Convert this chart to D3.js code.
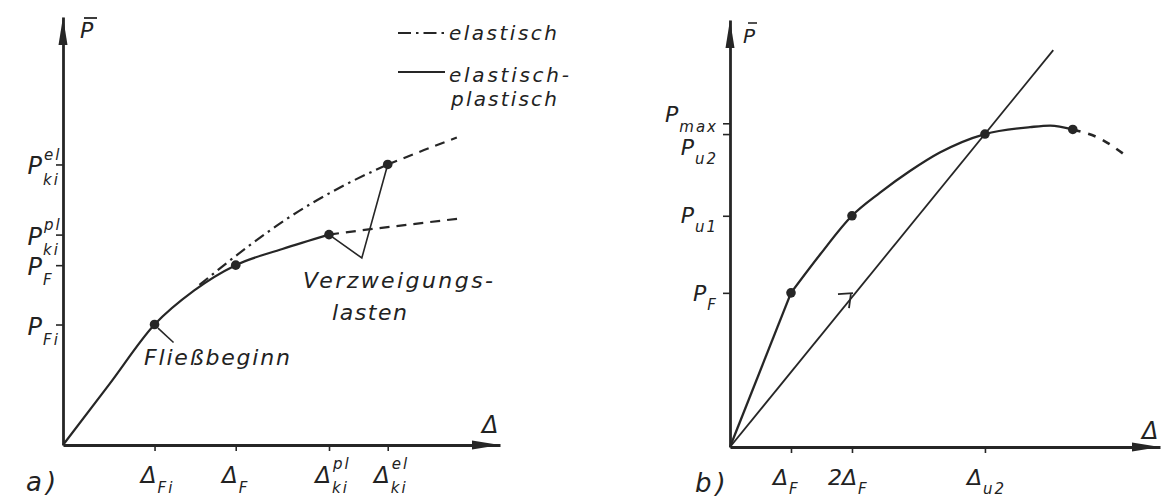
<!DOCTYPE html>
<html>
<head>
<meta charset="utf-8">
<script src="https://cdn.jsdelivr.net/npm/d3@7"></script>
<style>
  html, body { margin: 0; padding: 0; background: #fff; }
  svg { display: block; }
  text { font-family: "DejaVu Sans", sans-serif; font-style: oblique; fill: #222; }
</style>
</head>
<body>
<svg id="chart" width="1166" height="500"></svg>
<script>
// ---------- a) elastic vs. elastic-plastic load/deflection ----------
const aXTicks = [0.53, 1.00, 1.54, 1.88];
const aXTickLabels = [["Δ", "Fi", ""], ["Δ", "F", ""], ["Δ", "ki", "pl"], ["Δ", "ki", "el"]];
const aYTicks = [0.67, 1.00, 1.17, 1.56];
const aYTickLabels = [["P", "Fi", ""], ["P", "F", ""], ["P", "ki", "pl"], ["P", "ki", "el"]];
const aPlastic = [[0, 0], [0.27, 0.34], [0.53, 0.67], [0.76, 0.86], [1.00, 1.00], [1.27, 1.09], [1.54, 1.17]];
const aPlasticTail = [[1.54, 1.17], [1.78, 1.20], [2.04, 1.23], [2.30, 1.26]];
const aElastic = [[0.79, 0.89], [1.08, 1.11], [1.30, 1.26], [1.62, 1.44], [1.88, 1.56]];
const aElasticTail = [[1.88, 1.56], [2.09, 1.64], [2.28, 1.71]];
const aPoints = [[0.53, 0.67], [1.00, 1.00], [1.54, 1.17], [1.88, 1.56]];
const aBranchLeader = [[1.54, 1.17], [1.73, 1.04], [1.88, 1.56]];
const aYieldLeader = [[0.55, 0.65], [0.64, 0.57]];
const aLegend = ["elastisch", "elastisch-", "plastisch"];

// ---------- b) ultimate load from the secant through 2ΔF ----------
const bXTicks = [1.00, 2.00, 4.18];
const bXTickLabels = [["Δ", "F"], ["2Δ", "F"], ["Δ", "u2"]];
const bYTicks = [1.00, 1.50, 2.03, 2.10];
const bYTickLabels = [["P", "F"], ["P", "u1"], ["P", "u2"], ["P", "max"]];
const bCurveStart = [[0, 0], [1.00, 1.00]];
const bCurve = [[1.00, 1.00], [1.48, 1.25], [2.00, 1.50], [2.46, 1.65], [2.95, 1.79], [3.44, 1.91],
                [4.18, 2.03], [4.92, 2.075], [5.25, 2.085], [5.62, 2.06]];
const bCurveTail = [[5.62, 2.06], [6.07, 2.00], [6.49, 1.89]];
const bRay = [[0, 0], [5.30, 2.575]];
const bPoints = [[1.00, 1.00], [2.00, 1.50], [4.18, 2.03], [5.62, 2.06]];
const bRayMark = [2.00, 0.985];

// ---------- drawing ----------
const INK = "#262626";
const svg = d3.select("#chart");

const aX = d3.scaleLinear().domain([0, 2.53]).range([63, 500]);
const aY = d3.scaleLinear().domain([0, 2.38]).range([445, 17]);
const bX = d3.scaleLinear().domain([0, 7.05]).range([730, 1160]);
const bY = d3.scaleLinear().domain([0, 2.77]).range([447, 20]);

// base letter with optional subscript / superscript
function symbol(parent, base, sub, sup, fs, fsSmall) {
  const g = parent.append("g");
  const b = g.append("text").attr("font-size", fs).text(base);
  const bw = b.node().getComputedTextLength();
  let w = bw;
  if (sub) {
    const s = g.append("text").attr("x", bw + 1).attr("y", fs * 0.42)
      .attr("font-size", fsSmall).attr("letter-spacing", 2).text(sub);
    w = Math.max(w, bw + 1 + s.node().getComputedTextLength());
  }
  if (sup) {
    const s = g.append("text").attr("x", bw + 2).attr("y", -fs * 0.62)
      .attr("font-size", fsSmall).attr("letter-spacing", 2).text(sup);
    w = Math.max(w, bw + 2 + s.node().getComputedTextLength());
  }
  return { g, bw, w };
}

function arrowUp(g, x, y) {
  g.append("path").attr("d", `M${x},${y} L${x - 4.5},${y + 28} L${x + 4.5},${y + 28} Z`).attr("fill", INK);
}
function arrowRight(g, x, y) {
  g.append("path").attr("d", `M${x},${y} L${x - 28},${y - 4.5} L${x - 28},${y + 4.5} Z`).attr("fill", INK);
}

function drawPanel(cfg) {
  const { X, Y, g } = cfg;
  const xAxis = d3.axisBottom(X).tickValues(cfg.xTicks).tickSize(6).tickSizeOuter(0).tickFormat("");
  const yAxis = d3.axisLeft(Y).tickValues(cfg.yTicks).tickSize(7).tickSizeOuter(0).tickFormat("");
  const gx = g.append("g").attr("transform", `translate(0,${Y(0)})`).call(xAxis);
  const gy = g.append("g").attr("transform", `translate(${X(0)},0)`).call(yAxis);
  [gx, gy].forEach(a => {
    a.select(".domain").attr("stroke", INK).attr("stroke-width", 2.8);
    a.selectAll(".tick line").attr("stroke", INK).attr("stroke-width", 1.6);
  });
  arrowUp(g, X(0), Y.range()[1]);
  arrowRight(g, X.range()[1], Y(0));
}

// ---------------- panel a ----------------
const ga = svg.append("g");
drawPanel({ X: aX, Y: aY, g: ga, xTicks: aXTicks, yTicks: aYTicks });

const lineA = d3.line().x(d => aX(d[0])).y(d => aY(d[1])).curve(d3.curveMonotoneX);
const straightA = d3.line().x(d => aX(d[0])).y(d => aY(d[1]));

ga.append("path").attr("d", lineA(aElastic)).attr("fill", "none").attr("stroke", INK)
  .attr("stroke-width", 2.2).attr("stroke-dasharray", "11,5,2.5,5");
ga.append("path").attr("d", lineA(aElasticTail)).attr("fill", "none").attr("stroke", INK)
  .attr("stroke-width", 2.2).attr("stroke-dasharray", "10,7");
ga.append("path").attr("d", lineA(aPlastic)).attr("fill", "none").attr("stroke", INK)
  .attr("stroke-width", 2.2);
ga.append("path").attr("d", lineA(aPlasticTail)).attr("fill", "none").attr("stroke", INK)
  .attr("stroke-width", 2.2).attr("stroke-dasharray", "10,7");
ga.append("path").attr("d", straightA(aBranchLeader)).attr("fill", "none").attr("stroke", INK)
  .attr("stroke-width", 1.6);
ga.append("path").attr("d", straightA(aYieldLeader)).attr("fill", "none").attr("stroke", INK)
  .attr("stroke-width", 1.6);
ga.selectAll("circle.pt").data(aPoints).join("circle").attr("class", "pt")
  .attr("cx", d => aX(d[0])).attr("cy", d => aY(d[1])).attr("r", 4.8).attr("fill", INK);

// tick labels
aYTicks.forEach((v, i) => {
  const [b, s, p] = aYTickLabels[i];
  const sym = symbol(ga, b, s, p, 24, 15);
  sym.g.attr("transform", `translate(${aX(0) - 21 - sym.bw},${aY(v) + 10})`);
});
aXTicks.forEach((v, i) => {
  const [b, s, p] = aXTickLabels[i];
  const sym = symbol(ga, b, s, p, 23, 15);
  sym.g.attr("transform", `translate(${aX(v) + 2 - sym.bw},${aY(0) + 38})`);
});

// axis titles
ga.append("text").attr("x", aX(0) + 17).attr("y", aY.range()[1] + 21).attr("font-size", 22).text("P");
ga.append("line").attr("x1", aX(0) + 21).attr("x2", aX(0) + 34)
  .attr("y1", aY.range()[1] + 1).attr("y2", aY.range()[1] + 1).attr("stroke", INK).attr("stroke-width", 1.8);
ga.append("text").attr("x", aX.range()[1] - 18).attr("y", aY(0) - 12).attr("font-size", 24).text("Δ");
ga.append("text").attr("x", 26).attr("y", 491).attr("font-size", 26).attr("letter-spacing", 4).text("a)");

// annotations
ga.append("text").attr("x", 303).attr("y", 288).attr("font-size", 22)
  .attr("textLength", 190).attr("lengthAdjust", "spacing").text("Verzweigungs-");
ga.append("text").attr("x", 332).attr("y", 320).attr("font-size", 22)
  .attr("textLength", 75).attr("lengthAdjust", "spacing").text("lasten");
ga.append("text").attr("x", 144).attr("y", 365).attr("font-size", 22)
  .attr("textLength", 146).attr("lengthAdjust", "spacing").text("Fließbeginn");

// legend
const lg = ga.append("g");
lg.append("line").attr("x1", 398).attr("x2", 445).attr("y1", 33).attr("y2", 33)
  .attr("stroke", INK).attr("stroke-width", 2).attr("stroke-dasharray", "13,5,2.5,5");
lg.append("line").attr("x1", 398).attr("x2", 445).attr("y1", 72).attr("y2", 72)
  .attr("stroke", INK).attr("stroke-width", 2);
lg.append("text").attr("x", 449).attr("y", 40).attr("font-size", 20)
  .attr("textLength", 108).attr("lengthAdjust", "spacing").text(aLegend[0]);
lg.append("text").attr("x", 449).attr("y", 82).attr("font-size", 20)
  .attr("textLength", 120).attr("lengthAdjust", "spacing").text(aLegend[1]);
lg.append("text").attr("x", 451).attr("y", 106).attr("font-size", 20)
  .attr("textLength", 106).attr("lengthAdjust", "spacing").text(aLegend[2]);

// ---------------- panel b ----------------
const gb = svg.append("g");
drawPanel({ X: bX, Y: bY, g: gb, xTicks: bXTicks, yTicks: bYTicks });

const lineB = d3.line().x(d => bX(d[0])).y(d => bY(d[1])).curve(d3.curveMonotoneX);
const straightB = d3.line().x(d => bX(d[0])).y(d => bY(d[1]));

gb.append("path").attr("d", straightB(bRay)).attr("fill", "none").attr("stroke", INK).attr("stroke-width", 1.8);
gb.append("path").attr("d", straightB(bCurveStart)).attr("fill", "none").attr("stroke", INK).attr("stroke-width", 2.3);
gb.append("path").attr("d", lineB(bCurve)).attr("fill", "none").attr("stroke", INK).attr("stroke-width", 2.3);
gb.append("path").attr("d", lineB(bCurveTail)).attr("fill", "none").attr("stroke", INK)
  .attr("stroke-width", 2.6).attr("stroke-dasharray", "8,8");
gb.selectAll("circle.pt").data(bPoints).join("circle").attr("class", "pt")
  .attr("cx", d => bX(d[0])).attr("cy", d => bY(d[1])).attr("r", 4.8).attr("fill", INK);

// small hook where the secant meets P_F
{
  const mx = bX(bRayMark[0]), my = bY(bRayMark[1]);
  gb.append("path").attr("d", `M${mx - 14},${my - 1} L${mx + 1},${my - 2} M${mx - 1},${my - 2} L${mx - 3},${my + 13}`)
    .attr("fill", "none").attr("stroke", INK).attr("stroke-width", 1.8);
}

// tick labels
const bYLabelShift = [8, 7, 21, -1];
bYTicks.forEach((v, i) => {
  const [b, s] = bYTickLabels[i];
  const sym = symbol(gb, b, s, "", 22, 15);
  sym.g.attr("transform", `translate(${bX(0) - 12 - sym.w},${bY(v) + bYLabelShift[i]})`);
});
bXTicks.forEach((v, i) => {
  const [b, s] = bXTickLabels[i];
  const sym = symbol(gb, b, s, "", 22, 15);
  sym.g.attr("transform", `translate(${bX(v) + (i === 1 ? 5 : -3) - sym.bw},${bY(0) + 38})`);
});

// axis titles
gb.append("text").attr("x", bX(0) + 13).attr("y", bY.range()[1] + 23).attr("font-size", 20).text("P");
gb.append("line").attr("x1", bX(0) + 18).attr("x2", bX(0) + 27)
  .attr("y1", bY.range()[1] + 3).attr("y2", bY.range()[1] + 3).attr("stroke", INK).attr("stroke-width", 1.6);
gb.append("text").attr("x", bX.range()[1] - 18).attr("y", bY(0) - 8).attr("font-size", 24).text("Δ");
gb.append("text").attr("x", 695).attr("y", 492).attr("font-size", 26).attr("letter-spacing", 4).text("b)");
</script>
</body>
</html>
